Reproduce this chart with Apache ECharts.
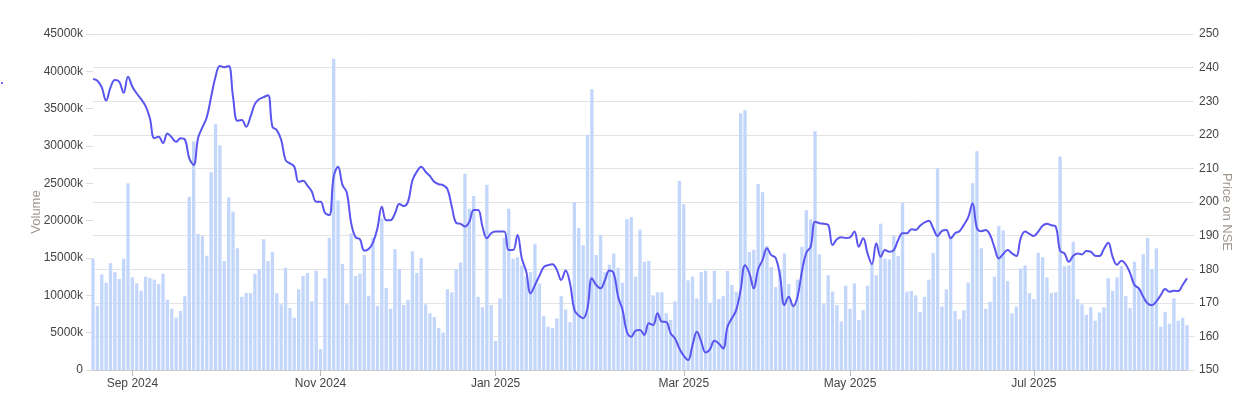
<!DOCTYPE html>
<html>
<head>
<meta charset="utf-8">
<script src="https://cdn.jsdelivr.net/npm/echarts@6/dist/echarts.min.js"></script>
<style>
html,body{margin:0;padding:0;background:#fff}
#chart{width:1234px;height:398px}
</style>
</head>
<body>
<div id="chart"></div>
<script>
// trading calendar (NSE) used for the categories
const startDate = '2024-08-20';
const endDate = '2025-08-20';
const holidays = ['2024-10-02','2024-11-15','2024-11-20','2024-12-25','2025-02-26','2025-03-14',
	'2025-03-31','2025-04-10','2025-04-14','2025-04-18','2025-05-01','2025-08-15'];
const specialSessions = ['2025-02-01'];
const monthNames = ['Jan','Feb','Mar','Apr','May','Jun','Jul','Aug','Sep','Oct','Nov','Dec'];

// daily volume, in thousands
const volumeK = [
	14900, 8600, 12800, 11700, 14300, 13100, 12200, 14900, 25000, 12400,
	11600, 10600, 12500, 12300, 12100, 11500, 12900, 9400, 8200, 7000,
	7900, 9900, 23200, 30600, 18200, 17900, 15300, 26500, 32900, 30100,
	14600, 23100, 21200, 16300, 9800, 10300, 10300, 12900, 13500, 17500,
	14600, 15800, 10300, 8800, 13700, 8300, 7000, 10800, 12600, 13000,
	9200, 13300, 2800, 12300, 17700, 41700, 22700, 14200, 8800, 18300,
	12600, 12900, 15400, 9950, 17700, 8600, 20300, 11000, 8200, 16200,
	13500, 8700, 9400, 15900, 13000, 15000, 8800, 7600, 7100, 5600,
	5000, 10800, 10400, 13500, 14400, 26300, 21600, 23300, 9800, 8400,
	24800, 8700, 3900, 9600, 17700, 21600, 14900, 15100, 14000, 12500,
	13100, 16900, 11600, 7200, 5800, 5600, 6900, 9900, 8100, 6400,
	22500, 19000, 16700, 31500, 37600, 15400, 18100, 13100, 14100, 15600,
	13700, 11700, 20200, 20500, 12500, 18800, 14500, 14600, 10000, 10400,
	10400, 7600, 6700, 9200, 25300, 22200, 12000, 12500, 9600, 13100,
	13300, 9000, 13300, 9500, 9900, 13300, 11400, 10500, 34400, 34800,
	15800, 16100, 24900, 23800, 16600, 13800, 11100, 13500, 15600, 11500,
	8900, 12100, 16500, 21400, 20200, 32000, 15500, 8800, 12700, 10500,
	8700, 6500, 11300, 8200, 11600, 6700, 8000, 11300, 14300, 12700,
	19600, 14900, 14800, 18000, 15300, 22400, 10500, 10600, 10000, 7800,
	9800, 12100, 15700, 27000, 8500, 10800, 17800, 7900, 6800, 8000,
	11700, 25000, 29300, 16300, 8200, 9100, 12500, 19300, 18700, 11900,
	7600, 8500, 13600, 14000, 10300, 9500, 15700, 15100, 12400, 10300,
	10400, 28600, 13900, 14000, 17200, 9500, 8800, 7400, 8400, 6600,
	7700, 8400, 12300, 10600, 12400, 13900, 9900, 8300, 14500, 10900,
	15500, 17700, 13500, 16300, 5800, 7800, 6200, 9600, 6600, 7000,
	6000
];

// closing price on NSE
const price = [
	236.6, 236.1, 234.1, 230.2, 234.1, 236.3, 235.8, 232.5, 237.3, 234.3,
	232.3, 230.6, 228.6, 224.9, 219.0, 219.4, 217.5, 220.4, 219.2, 217.9,
	219.0, 218.6, 213.0, 211.0, 219.0, 222.2, 225.2, 231.3, 237.3, 240.5,
	240.1, 240.5, 231.3, 224.2, 224.4, 222.4, 225.4, 229.2, 230.6, 231.2,
	231.8, 222.4, 221.4, 218.5, 212.5, 211.5, 210.5, 206.0, 206.3, 204.9,
	203.1, 200.1, 200.1, 196.8, 196.1, 207.5, 210.5, 205.1, 202.8, 193.7,
	189.5, 188.9, 185.5, 186.0, 188.0, 192.2, 198.6, 194.6, 194.6, 196.6,
	199.4, 198.8, 200.1, 206.5, 209.0, 210.5, 209.0, 207.7, 206.0, 205.3,
	205.0, 203.8, 198.6, 193.8, 193.5, 192.7, 194.1, 197.6, 197.6, 192.7,
	189.2, 190.7, 191.2, 191.2, 191.2, 185.7, 185.7, 190.2, 183.2, 179.3,
	172.8, 175.3, 178.0, 180.6, 181.2, 181.5, 179.8, 176.8, 179.6, 175.8,
	167.9, 166.2, 165.4, 168.4, 177.3, 175.3, 174.3, 176.8, 179.6, 178.8,
	171.8, 167.9, 161.4, 159.9, 161.7, 161.9, 160.4, 163.9, 163.4, 166.9,
	164.4, 164.3, 160.9, 159.4, 156.4, 154.2, 153.0, 157.4, 161.4, 158.4,
	155.2, 156.2, 158.7, 157.9, 156.4, 162.9, 165.4, 167.9, 173.8, 181.2,
	178.8, 174.3, 180.0, 182.7, 186.2, 184.2, 183.4, 178.0, 169.3, 171.8,
	169.0, 171.8, 179.3, 184.9, 186.7, 194.1, 193.7, 193.5, 193.2, 187.2,
	188.9, 189.5, 189.3, 189.5, 191.2, 186.7, 189.2, 184.7, 181.5, 187.7,
	183.7, 185.7, 185.2, 185.7, 188.7, 190.7, 190.7, 191.9, 191.7, 192.9,
	193.9, 194.4, 192.2, 189.9, 191.4, 191.7, 189.2, 190.7, 191.3, 193.2,
	195.4, 199.6, 192.2, 191.3, 191.7, 190.2, 186.5, 183.2, 184.5, 185.7,
	184.7, 183.9, 189.2, 191.2, 190.5, 189.9, 191.2, 192.9, 193.5, 193.1,
	192.7, 185.5, 184.7, 182.2, 184.0, 184.7, 184.4, 185.4, 185.2, 184.0,
	183.9, 186.0, 187.9, 183.7, 181.3, 182.5, 181.4, 178.8, 175.3, 174.3,
	171.8, 169.8, 169.3, 170.4, 172.3, 174.1, 173.3, 173.6, 173.5, 175.3,
	177.3
];

function tradingDays(){
	let d = new Date(startDate + 'T00:00:00Z');
	const end = new Date(endDate + 'T00:00:00Z');
	const out = [];
	while (d <= end) {
		const s = d.toISOString().slice(0, 10);
		const wd = d.getUTCDay();
		if ((wd > 0 && wd < 6 && holidays.indexOf(s) < 0) || specialSessions.indexOf(s) >= 0) out.push(s);
		d.setUTCDate(d.getUTCDate() + 1);
	}
	return out;
}
const dates = tradingDays();

// label only the first trading day of Sep, Nov, Jan, Mar, May, Jul
function isLabelDay(idx){
	if (idx <= 0) return false;
	const m = +dates[idx].slice(5, 7);
	const pm = +dates[idx - 1].slice(5, 7);
	return m !== pm && m % 2 === 1;
}

const font = 'Arial, "Liberation Sans", sans-serif';
const myChart = echarts.init(document.getElementById('chart'));
const option = {
	animation: false,
	grid: { left: 93, right: 47, top: 34, bottom: 28, containLabel: false, outerBoundsMode: 'none' },
	graphic: [
		{ type: 'circle', shape: { cx: 2, cy: 83, r: 1 }, style: { fill: '#3b3bff' } }
	],
	xAxis: {
		type: 'category',
		data: dates,
		boundaryGap: false,
		axisLine: { show: true, lineStyle: { color: '#cccccc', width: 1 } },
		axisTick: { show: true, length: 6, interval: (i) => isLabelDay(i), lineStyle: { color: '#bbbbbb' } },
		axisLabel: {
			interval: (i) => isLabelDay(i),
			formatter: (v) => monthNames[+v.slice(5, 7) - 1] + ' ' + v.slice(0, 4),
			color: '#444', fontSize: 12, fontFamily: font, margin: 8
		},
		splitLine: { show: false }
	},
	yAxis: [
		{
			type: 'value',
			min: 0, max: 45000, interval: 5000,
			name: 'Volume',
			nameLocation: 'middle',
			nameGap: 50,
			nameMoveOverlap: false,
			// padding nudges the rotated title a little lower, as in the reference
			nameTextStyle: { color: '#9e978f', fontSize: 13, fontFamily: font, padding: [0, 20, 0, 0] },
			axisLine: { show: false },
			axisTick: { show: true, length: 7, lineStyle: { color: '#dddddd' } },
			axisLabel: { formatter: (v) => v === 0 ? '0' : v + 'k', color: '#444', fontSize: 12, fontFamily: font, margin: 10 },
			splitLine: { show: false }
		},
		{
			type: 'value',
			min: 150, max: 250, interval: 10,
			name: 'Price on NSE',
			nameLocation: 'middle',
			nameGap: 33,
			nameRotate: -90,
			nameMoveOverlap: false,
			nameTextStyle: { color: '#9e978f', fontSize: 13, fontFamily: font, padding: [0, 0, 0, 20] },
			axisLine: { show: false },
			axisTick: { show: true, length: 7, lineStyle: { color: '#e3e3e3' } },
			axisLabel: { color: '#444', fontSize: 12, fontFamily: font, margin: 12 },
			splitLine: { show: true, lineStyle: { color: '#e3e3e3', width: 1 } }
		}
	],
	series: [
		{
			name: 'Volume',
			type: 'bar',
			yAxisIndex: 0,
			data: volumeK,
			barCategoryGap: '24%',
			itemStyle: { color: '#c3d6fb' },
			clip: true
		},
		{
			name: 'Price',
			type: 'line',
			yAxisIndex: 1,
			data: price,
			smooth: 0.4,
			showSymbol: false,
			symbol: 'none',
			lineStyle: { color: '#5a55ef', width: 2 },
			z: 3
		}
	]
};
myChart.setOption(option);
</script>
</body>
</html>
